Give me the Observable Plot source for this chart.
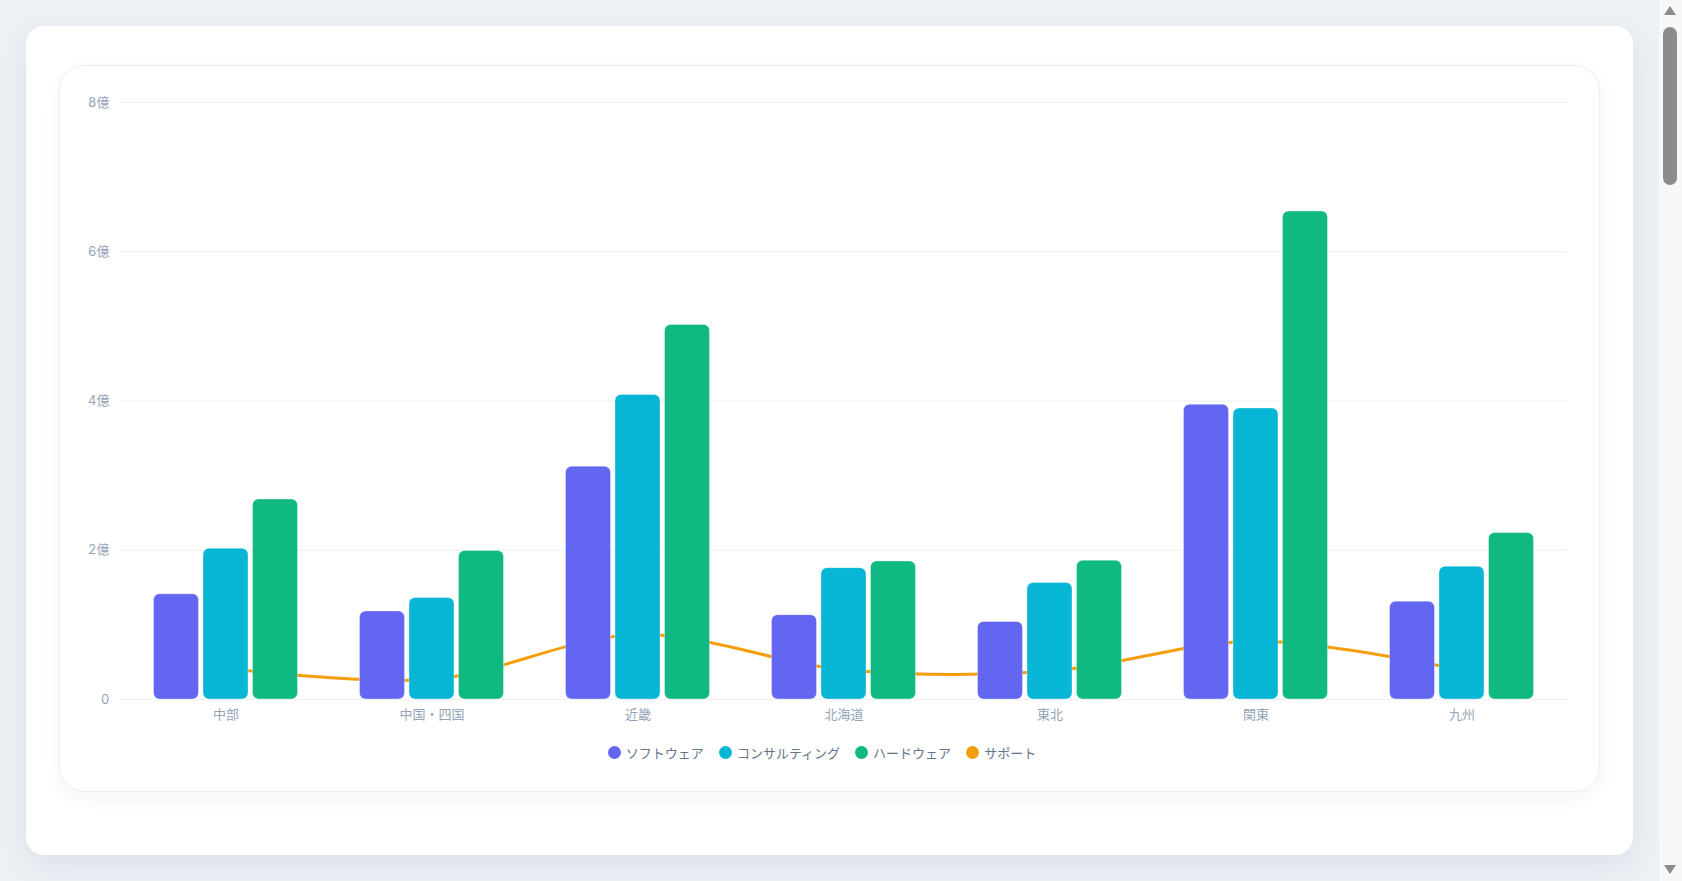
<!DOCTYPE html>
<html>
<head>
<meta charset="utf-8">
<script src="https://cdn.jsdelivr.net/npm/d3@7"></script>
<script src="https://cdn.jsdelivr.net/npm/@observablehq/plot@0.6"></script>
<style>
html, body { margin: 0; padding: 0; overflow: hidden; }
body { background: #edf1f6; width: 1682px; height: 881px; font-family: Inter, "Noto Sans CJK JP", sans-serif; }
#outer { position: absolute; left: 26px; top: 26px; width: 1607px; height: 829px; background: #ffffff; border-radius: 18px; box-shadow: 0 10px 30px rgba(30, 41, 59, 0.08); }
#inner { position: absolute; left: 33px; top: 39px; width: 1541px; height: 727px; box-sizing: border-box; border: 1px solid #eceff3; border-radius: 26px; background: #ffffff; box-shadow: 0 6px 18px rgba(30, 41, 59, 0.05); }
#chart { position: absolute; left: 23px; top: 23px; }
#legend { position: absolute; left: 0; right: 0; top: 676px; height: 20px; display: flex; justify-content: center; align-items: center; font-size: 13px; color: #64748b; font-family: "Noto Sans CJK JP", sans-serif; }
.item { display: flex; align-items: center; margin-right: 15px; }
.dot { width: 13px; height: 13px; border-radius: 50%; margin-right: 5px; }
#sb { position: fixed; left: 1659px; top: 0; width: 23px; height: 881px; background: #f8f8f8; }
#sb .thumb { position: absolute; left: 4px; top: 27px; width: 14px; height: 158px; border-radius: 7px; background: #8c8c8c; }
#sb .up { position: absolute; left: 5px; top: 6px; width: 0; height: 0; border-left: 6.5px solid transparent; border-right: 6.5px solid transparent; border-bottom: 9px solid #8c8c8c; }
#sb .down { position: absolute; left: 5px; top: 865px; width: 0; height: 0; border-left: 6.5px solid transparent; border-right: 6.5px solid transparent; border-top: 9px solid #8c8c8c; }
</style>
</head>
<body>
<div id="outer">
  <div id="inner">
    <div id="chart"></div>
    <div id="legend"></div>
  </div>
</div>
<div id="sb"><div class="up"></div><div class="thumb"></div><div class="down"></div></div>
<script>
const regions = ["中部", "中国・四国", "近畿", "北海道", "東北", "関東", "九州"];
const software = [1.41, 1.18, 3.12, 1.13, 1.04, 3.95, 1.31];
const consulting = [2.02, 1.36, 4.08, 1.76, 1.56, 3.90, 1.78];
const hardware = [2.68, 1.99, 5.02, 1.85, 1.86, 6.54, 2.23];
const support = [0.42, 0.27, 0.87, 0.40, 0.38, 0.78, 0.39];
const yTicks = [0, 2, 4, 6, 8];
const seriesNames = ["ソフトウェア", "コンサルティング", "ハードウェア", "サポート"];
const colors = ["#6366f1", "#06b6d4", "#10b981", "#f59e0b"];

const rows = regions.map((r, i) => ({
  region: r,
  software: software[i],
  consulting: consulting[i],
  hardware: hardware[i],
  support: support[i]
}));

const W = 1493, ML = 37, MR = 9;
const plotW = W - ML - MR;
const step = plotW / regions.length;
const barW = 45, barStep = 49.5;
const pInner = 1 - barW / step;

const barKeys = ["software", "consulting", "hardware"];
const bars = barKeys.map((k, i) => Plot.barY(rows, {
  x: "region", y: k, fill: colors[i], dx: (i - 1) * barStep, rx: 6,
  stroke: "#ffffff", strokeOpacity: 0.35, strokeWidth: 1
}));

const chart = Plot.plot({
  width: W,
  height: 640,
  marginLeft: ML,
  marginRight: MR,
  marginTop: 13,
  marginBottom: 30,
  style: { fontSize: "13px", fontFamily: "Inter, 'Noto Sans CJK JP', sans-serif", color: "#94a3b8", background: "transparent" },
  x: { domain: regions, paddingInner: pInner, paddingOuter: pInner / 2, label: null, tickSize: 0, tickPadding: 10 },
  y: { domain: [0, 8], ticks: yTicks, tickFormat: d => d === 0 ? "0" : d + "億", tickSize: 0, tickPadding: 11, label: null },
  marks: [
    Plot.ruleY(yTicks, { stroke: "#eceff3", strokeWidth: 1 }),
    Plot.line(rows, { x: "region", y: "support", stroke: colors[3], strokeWidth: 3, curve: "catmull-rom" }),
    ...bars
  ]
});
document.getElementById("chart").appendChild(chart);

const legend = document.getElementById("legend");
seriesNames.forEach((name, i) => {
  const item = document.createElement("div");
  item.className = "item";
  const dot = document.createElement("span");
  dot.className = "dot";
  dot.style.background = colors[i];
  const label = document.createElement("span");
  label.textContent = name;
  item.appendChild(dot);
  item.appendChild(label);
  legend.appendChild(item);
});
</script>
</body>
</html>
